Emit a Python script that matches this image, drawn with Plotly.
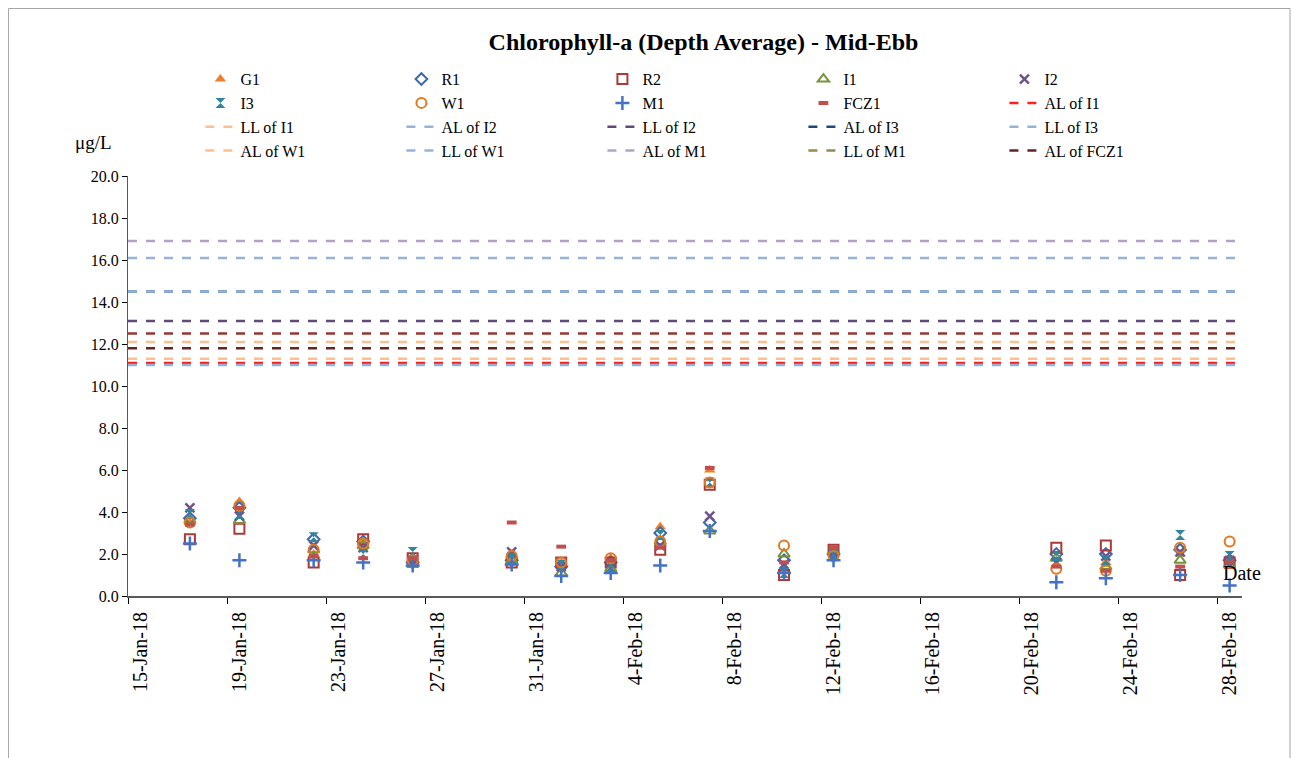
"""
Chlorophyll-a (Depth Average) - Mid-Ebb scatter with action / limit levels
"""

import plotly.graph_objects as go

# ---- data -----------------------------------------------------------------
sample_dates = [
    "2018-01-17 12:00", "2018-01-19 12:00", "2018-01-22 12:00", "2018-01-24 12:00",
    "2018-01-26 12:00", "2018-01-30 12:00", "2018-02-01 12:00", "2018-02-03 12:00",
    "2018-02-05 12:00", "2018-02-07 12:00", "2018-02-10 12:00", "2018-02-12 12:00",
    "2018-02-21 12:00", "2018-02-23 12:00", "2018-02-26 12:00", "2018-02-28 12:00",
]

g1 = [3.5, 4.5, 2.0, 2.6, 1.7, 2.0, 1.5, 1.8, 3.3, 6.0, 1.2, 2.2, 1.5, 1.6, 2.0, 1.4]
r1 = [3.7, 4.2, 2.7, 2.6, 1.6, 1.7, 1.4, 1.6, 3.0, 3.5, 1.7, 2.0, 2.0, 2.0, 2.2, 1.7]
r2 = [2.7, 3.2, 1.6, 2.7, 1.8, 1.6, 1.6, 1.6, 2.2, 5.3, 1.0, 2.2, 2.3, 2.4, 1.0, 1.6]
i1 = [3.6, 3.6, 2.2, 2.4, 1.5, 1.7, 1.1, 1.3, 2.6, 3.1, 2.0, 2.1, 1.8, 1.4, 1.7, 1.5]
i2 = [4.2, 3.8, 2.4, 2.3, 1.7, 2.1, 1.4, 1.6, 2.4, 3.8, 1.5, 2.1, 1.6, 1.9, 2.1, 1.7]
i3 = [3.9, 3.9, 2.8, 2.0, 2.1, 1.8, 1.5, 1.4, 2.9, 5.4, 1.1, 2.0, 1.9, 1.7, 2.9, 1.9]
w1 = [3.5, 4.3, 2.2, 2.5, 1.7, 1.9, 1.6, 1.8, 2.6, 5.4, 2.4, 1.9, 1.3, 1.2, 2.3, 2.6]
m1 = [2.5, 1.7, 1.7, 1.6, 1.45, 1.5, 0.95, 1.1, 1.45, 3.1, 1.1, 1.7, 0.65, 0.85, 1.0, 0.5]
fcz1 = [3.4, 4.2, 1.9, 1.8, 1.8, 3.5, 2.35, 1.7, 2.3, 6.1, 1.6, 2.3, 1.4, 1.2, 1.4, 1.6]

station_names = ["G1", "R1", "R2", "I1", "I2", "I3", "W1", "M1", "FCZ1"]
station_values = [g1, r1, r2, i1, i2, i3, w1, m1, fcz1]

level_names = [
    "AL of I1", "LL of I1", "AL of I2", "LL of I2", "AL of I3", "LL of I3",
    "AL of W1", "LL of W1", "AL of M1", "LL of M1", "AL of FCZ1", "LL of FCZ1",
]
level_values = [11.1, 11.3, 11.0, 13.1, 14.5, 14.5, 12.1, 16.1, 16.9, 21.0, 11.8, 12.5]

x_start = "2018-01-15"
x_end = "2018-03-01"

# ---- styles ---------------------------------------------------------------
FONT = "Liberation Serif, Times New Roman, serif"

marker_styles = {
    "G1": dict(symbol="triangle-up", color="#EE7F2D", size=10),
    "R1": dict(symbol="diamond-open", color="#3B68AE", size=9, line=dict(width=2)),
    "R2": dict(symbol="square-open", color="#A93A36", size=10, line=dict(width=2)),
    "I1": dict(symbol="triangle-up-open", color="#77933C", size=10, line=dict(width=2)),
    "I2": dict(symbol="x-thin", color="#6E548D", size=9, line=dict(width=2.5, color="#6E548D")),
    "I3": dict(symbol="hourglass", color="#31859C", size=10),
    "W1": dict(symbol="circle-open", color="#E2781F", size=10, line=dict(width=2)),
    "M1": dict(symbol="cross-thin", color="#4472C4", size=10, line=dict(width=2.5, color="#4472C4")),
    "FCZ1": dict(symbol="line-ew", color="#C0504D", size=7, line=dict(width=4, color="#C0504D")),
}

level_colors = {
    "AL of I1": "#FF2020",
    "LL of I1": "#FAC090",
    "AL of I2": "#95B3D7",
    "LL of I2": "#604A7B",
    "AL of I3": "#1F497D",
    "LL of I3": "#95B3D7",
    "AL of W1": "#FAC090",
    "LL of W1": "#95B3D7",
    "AL of M1": "#B3A2C7",
    "LL of M1": "#948A54",
    "AL of FCZ1": "#632523",
    "LL of FCZ1": "#953735",
}

fig = go.Figure()

# monitoring stations
for name, values in zip(station_names, station_values):
    fig.add_trace(
        go.Scatter(
            x=sample_dates,
            y=values,
            name=name,
            mode="markers",
            marker=marker_styles[name],
        )
    )

# action / limit levels as horizontal dashed lines
for name, value in zip(level_names, level_values):
    fig.add_trace(
        go.Scatter(
            x=[x_start, x_end],
            y=[value, value],
            name=name,
            mode="lines",
            line=dict(color=level_colors[name], width=2.5, dash="dash"),
            showlegend=(name != "LL of FCZ1"),
        )
    )

# page body adds an 8px offset, so the figure is sized 1292x750
fig.update_layout(
    width=1292,
    height=750,
    template="plotly_white",
    paper_bgcolor="white",
    plot_bgcolor="white",
    font=dict(family=FONT, size=16, color="black"),
    margin=dict(l=120, r=58, t=168, b=162, autoexpand=False),
    title=dict(
        text="<b>Chlorophyll-a (Depth Average) - Mid-Ebb</b>",
        x=0.5383,
        xanchor="center",
        y=0.9547,
        yanchor="middle",
        font=dict(family=FONT, size=24, color="black"),
    ),
    legend=dict(
        orientation="h",
        x=0.065,
        xanchor="left",
        y=1.271,
        yanchor="top",
        entrywidth=156,
        entrywidthmode="pixels",
        font=dict(family=FONT, size=16, color="black"),
        bgcolor="rgba(0,0,0,0)",
        tracegroupgap=0,
    ),
    showlegend=True,
)

fig.update_xaxes(
    type="date",
    range=[x_start, x_end],
    tick0=x_start,
    dtick=4 * 24 * 3600 * 1000,
    tickformat="%-d-%b-%y",
    tickangle=-90,
    ticklabelshift=12,
    ticks="outside",
    ticklen=6,
    tickcolor="black",
    showgrid=False,
    zeroline=False,
    showline=True,
    linecolor="#595959",
    linewidth=2,
    tickfont=dict(family=FONT, size=20, color="black"),
)

fig.update_yaxes(
    range=[0, 20],
    dtick=2,
    tickformat=".1f",
    ticks="outside",
    ticklen=5,
    tickcolor="black",
    showgrid=False,
    zeroline=False,
    showline=True,
    linecolor="#595959",
    linewidth=1,
    tickfont=dict(family=FONT, size=16, color="black"),
)

# axis labels as Excel puts them
fig.add_annotation(
    text="μg/L", xref="paper", yref="paper", x=-0.031, y=1.0786,
    xanchor="center", yanchor="middle",
    showarrow=False, font=dict(family=FONT, size=19, color="black"),
)
fig.add_annotation(
    text="Date", xref="paper", yref="paper", x=1.0, y=0.055,
    xanchor="center", yanchor="middle",
    showarrow=False, font=dict(family=FONT, size=20, color="black"),
)

# chart area border
fig.add_shape(
    type="rect", xref="paper", yref="paper",
    x0=-0.1073, x1=1.0431, y0=-0.42, y1=1.3988,
    line=dict(color="#A6A6A6", width=1),
)

fig.write_html("out.html")
